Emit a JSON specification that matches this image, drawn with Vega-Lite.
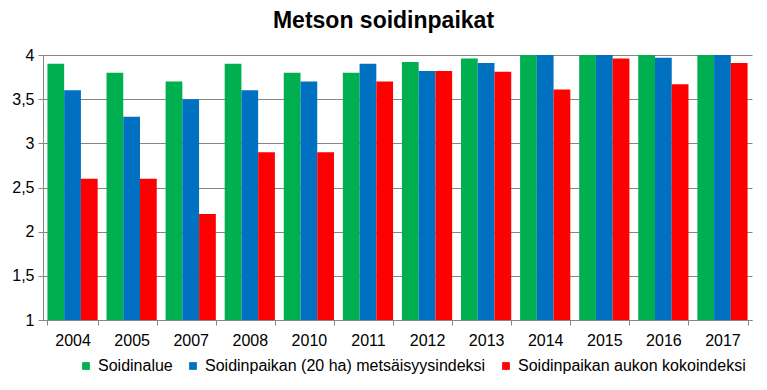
{
  "$schema": "https://vega.github.io/schema/vega-lite/v6.json",
  "autosize": "none",
  "width": 709,
  "height": 265,
  "padding": {"left": 43, "top": 55, "right": 15, "bottom": 70},
  "background": "white",
  "title": {"text": "Metson soidinpaikat", "font": "Liberation Sans", "fontSize": 23, "fontWeight": "bold", "color": "black", "anchor": "middle", "dx": -14, "offset": 14},
  "data": {"values": [
    {"vuosi": "2004", "sarja": "Soidinalue", "arvo": 3.9},
    {"vuosi": "2004", "sarja": "Soidinpaikan (20 ha) metsäisyysindeksi", "arvo": 3.6},
    {"vuosi": "2004", "sarja": "Soidinpaikan aukon kokoindeksi", "arvo": 2.6},
    {"vuosi": "2005", "sarja": "Soidinalue", "arvo": 3.8},
    {"vuosi": "2005", "sarja": "Soidinpaikan (20 ha) metsäisyysindeksi", "arvo": 3.3},
    {"vuosi": "2005", "sarja": "Soidinpaikan aukon kokoindeksi", "arvo": 2.6},
    {"vuosi": "2007", "sarja": "Soidinalue", "arvo": 3.7},
    {"vuosi": "2007", "sarja": "Soidinpaikan (20 ha) metsäisyysindeksi", "arvo": 3.5},
    {"vuosi": "2007", "sarja": "Soidinpaikan aukon kokoindeksi", "arvo": 2.2},
    {"vuosi": "2008", "sarja": "Soidinalue", "arvo": 3.9},
    {"vuosi": "2008", "sarja": "Soidinpaikan (20 ha) metsäisyysindeksi", "arvo": 3.6},
    {"vuosi": "2008", "sarja": "Soidinpaikan aukon kokoindeksi", "arvo": 2.9},
    {"vuosi": "2010", "sarja": "Soidinalue", "arvo": 3.8},
    {"vuosi": "2010", "sarja": "Soidinpaikan (20 ha) metsäisyysindeksi", "arvo": 3.7},
    {"vuosi": "2010", "sarja": "Soidinpaikan aukon kokoindeksi", "arvo": 2.9},
    {"vuosi": "2011", "sarja": "Soidinalue", "arvo": 3.8},
    {"vuosi": "2011", "sarja": "Soidinpaikan (20 ha) metsäisyysindeksi", "arvo": 3.9},
    {"vuosi": "2011", "sarja": "Soidinpaikan aukon kokoindeksi", "arvo": 3.7},
    {"vuosi": "2012", "sarja": "Soidinalue", "arvo": 3.92},
    {"vuosi": "2012", "sarja": "Soidinpaikan (20 ha) metsäisyysindeksi", "arvo": 3.82},
    {"vuosi": "2012", "sarja": "Soidinpaikan aukon kokoindeksi", "arvo": 3.82},
    {"vuosi": "2013", "sarja": "Soidinalue", "arvo": 3.96},
    {"vuosi": "2013", "sarja": "Soidinpaikan (20 ha) metsäisyysindeksi", "arvo": 3.91},
    {"vuosi": "2013", "sarja": "Soidinpaikan aukon kokoindeksi", "arvo": 3.81},
    {"vuosi": "2014", "sarja": "Soidinalue", "arvo": 4.0},
    {"vuosi": "2014", "sarja": "Soidinpaikan (20 ha) metsäisyysindeksi", "arvo": 4.0},
    {"vuosi": "2014", "sarja": "Soidinpaikan aukon kokoindeksi", "arvo": 3.61},
    {"vuosi": "2015", "sarja": "Soidinalue", "arvo": 4.0},
    {"vuosi": "2015", "sarja": "Soidinpaikan (20 ha) metsäisyysindeksi", "arvo": 4.0},
    {"vuosi": "2015", "sarja": "Soidinpaikan aukon kokoindeksi", "arvo": 3.96},
    {"vuosi": "2016", "sarja": "Soidinalue", "arvo": 4.0},
    {"vuosi": "2016", "sarja": "Soidinpaikan (20 ha) metsäisyysindeksi", "arvo": 3.97},
    {"vuosi": "2016", "sarja": "Soidinpaikan aukon kokoindeksi", "arvo": 3.67},
    {"vuosi": "2017", "sarja": "Soidinalue", "arvo": 4.0},
    {"vuosi": "2017", "sarja": "Soidinpaikan (20 ha) metsäisyysindeksi", "arvo": 4.0},
    {"vuosi": "2017", "sarja": "Soidinpaikan aukon kokoindeksi", "arvo": 3.91}
  ]},
  "mark": {"type": "bar", "clip": true},
  "encoding": {
    "x": {"field": "vuosi", "type": "nominal", "title": null,
      "scale": {"paddingInner": 0.15, "paddingOuter": 0.075},
      "axis": {"labelAngle": 0, "labelFont": "Liberation Sans", "labelFontSize": 16, "labelColor": "black", "labelPadding": 7,
        "domainColor": "#868686", "tickColor": "#868686", "tickBand": "extent", "tickSize": 5, "grid": false}},
    "xOffset": {"field": "sarja", "type": "nominal", "sort": null, "scale": {"paddingInner": 0, "paddingOuter": 0}},
    "y": {"field": "arvo", "type": "quantitative", "title": null,
      "scale": {"domain": [1, 4], "nice": false, "zero": false},
      "axis": {"values": [1, 1.5, 2, 2.5, 3, 3.5, 4], "labelExpr": "replace(toString(datum.value), '.', ',')",
        "labelFont": "Liberation Sans", "labelFontSize": 16, "labelColor": "black", "labelPadding": 4,
        "domainColor": "#868686", "tickColor": "#868686", "tickSize": 5, "grid": true, "gridColor": "#868686", "gridWidth": 1}},
    "color": {"field": "sarja", "type": "nominal", "sort": null, "title": null,
      "scale": {"domain": ["Soidinalue", "Soidinpaikan (20 ha) metsäisyysindeksi", "Soidinpaikan aukon kokoindeksi"], "range": ["#00B050", "#0070C0", "#FF0000"]},
      "legend": {"orient": "none", "legendX": 35, "legendY": 303, "direction": "horizontal", "symbolType": "square", "symbolSize": 60,
        "labelFont": "Liberation Sans", "labelFontSize": 16, "labelColor": "black", "columnPadding": 12, "labelOffset": 4, "labelLimit": 0, "symbolStrokeWidth": 0}}
  },
  "config": {"view": {"stroke": null}, "axis": {"labelFlush": false}}
}
